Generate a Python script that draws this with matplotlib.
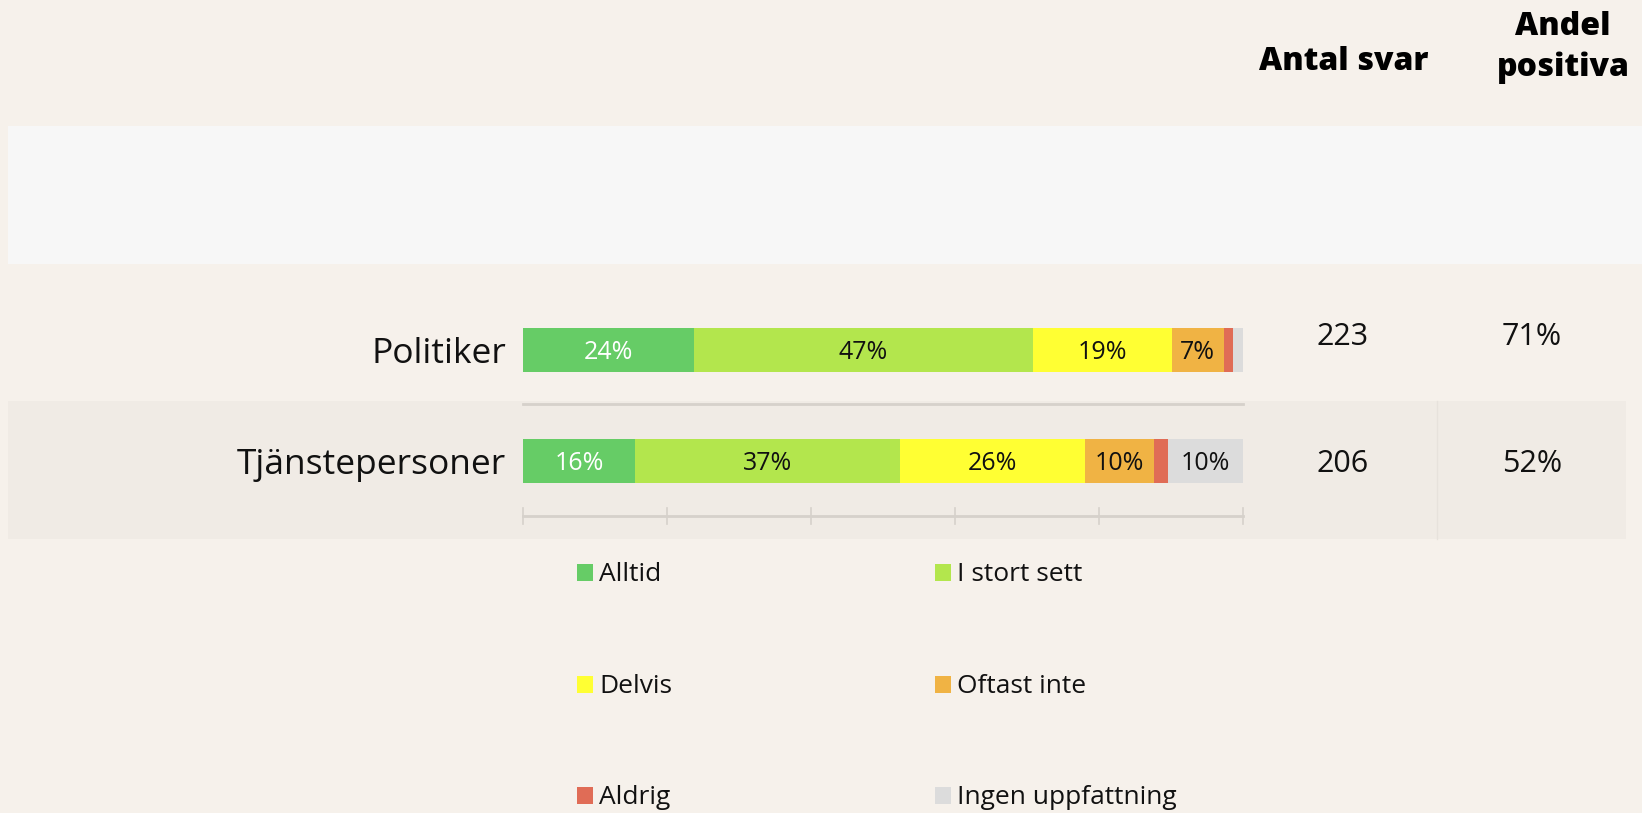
import numpy as np
import matplotlib
matplotlib.use('Agg')
from matplotlib import pyplot as plt
from matplotlib.patches import Rectangle

plt.rcParams['font.family'] = ['Open Sans', 'DejaVu Sans']

# data
groups = ['Politiker', 'Tjänstepersoner']
answers = ['Alltid', 'I stort sett', 'Delvis', 'Oftast inte', 'Aldrig', 'Ingen uppfattning']
colors = ['#66cc66', '#b3e64d', '#ffff33', '#f0b344', '#e06c56', '#dcdcdc']
text_colors = ['white', '#111111', '#111111', '#111111', '#111111', '#111111']
shares = np.array([
    [23.8, 47.0, 19.3, 7.2, 1.3, 1.4],
    [15.6, 36.7, 25.7, 9.7, 1.9, 10.4],
])
antal_svar = [223, 206]
andel_positiva = [71, 52]

W, H = 1642, 813
bg = '#f6f1eb'
fig = plt.figure(figsize=(W / 100, H / 100), dpi=100, facecolor=bg)


def fig_rect(x0, y0, x1, y1, color, z=0):
    # pixel box (top-left origin) -> figure patch
    fig.patches.append(Rectangle((x0 / W, 1 - y1 / H), (x1 - x0) / W, (y1 - y0) / H,
                                 transform=fig.transFigure, facecolor=color,
                                 edgecolor='none', zorder=z))


# background blocks
fig_rect(8, 126, W, 264, '#f7f7f7', z=-2)
fig_rect(8, 401, 1626, 539, '#f0ebe5', z=-2)
fig.add_artist(plt.Line2D([1437 / W, 1437 / W], [1 - 539 / H, 1 - 401 / H],
                          color='#e7e2dc', lw=1, transform=fig.transFigure, zorder=-1))

# main axes: 720 px for 0..100, rows 111 px apart
ax = fig.add_axes([523 / W, 1 - 539 / H, 720 / W, 275 / H])
ax.set_zorder(1)
ax.set_facecolor('none')
ax.set_xlim(0, 100)
ax.set_ylim(1.705, -0.772)
ax.axis('off')

px = 1 / 111.0  # one pixel in y data units
bar_h = 44 * px
y_pos = np.arange(len(groups))
lw_txt = 'normal'

left = np.zeros(len(groups))
for j, ans in enumerate(answers):
    vals = shares[:, j]
    ax.barh(y_pos, vals, left=left, height=bar_h, color=colors[j], edgecolor='none')
    for i in range(len(groups)):
        if vals[i] >= 5:
            ax.text(left[i] + vals[i] / 2, y_pos[i] + 9 * px, '%d%%' % round(vals[i]),
                    ha='center', va='baseline', fontsize=18, fontweight=lw_txt,
                    color=text_colors[j])
    left += vals

# category labels
for i, g in enumerate(groups):
    ax.text(-17 / 7.2, y_pos[i] + 13 * px, g, ha='right', va='baseline',
            fontsize=25.5, fontweight=lw_txt, color='#111111', clip_on=False)

# separator and axis line with ticks
line_c = '#d6d1cb'
ax.plot([0, 100], [0.486, 0.486], color=line_c, lw=2, clip_on=False)
ax.plot([0, 100], [1.495, 1.495], color=line_c, lw=2, clip_on=False)
for t in range(0, 101, 20):
    ax.plot([t, t], [1.495 - 8 * px, 1.495 + 8 * px], color=line_c, lw=1.2, clip_on=False)

# table columns
num_off = [-5 * px, 11 * px]
for i in range(len(groups)):
    ax.text((1343 - 523) / 7.2, y_pos[i] + num_off[i], str(antal_svar[i]),
            ha='center', va='baseline', fontsize=22, fontweight=lw_txt,
            color='#111111', clip_on=False)
    ax.text((1532 - 523) / 7.2, y_pos[i] + num_off[i], '%d%%' % andel_positiva[i],
            ha='center', va='baseline', fontsize=22, fontweight=lw_txt,
            color='#111111', clip_on=False)

# headers
hdr = dict(ha='center', va='baseline', fontsize=23, fontweight=800, color='black')
fig.text(1344 / W, 1 - 70 / H, 'Antal svar', **hdr)
fig.text(1563 / W, 1 - 35 / H, 'Andel', **hdr)
fig.text(1563 / W, 1 - 76 / H, 'positiva', **hdr)

# legend (3 rows x 2 cols)
col_x = [577, 935]
row_y = [573, 685, 796]
for k, ans in enumerate(answers):
    r, c = k // 2, k % 2
    x0, yc = col_x[c], row_y[r]
    fig_rect(x0, yc - 9, x0 + 16, yc + 8, colors[k], z=2)
    fig.text((x0 + 22) / W, 1 - (yc + 8) / H, ans, ha='left', va='baseline',
             fontsize=19, fontweight=lw_txt, color='#111111')

fig.savefig('out.png', dpi=100, facecolor=bg)
